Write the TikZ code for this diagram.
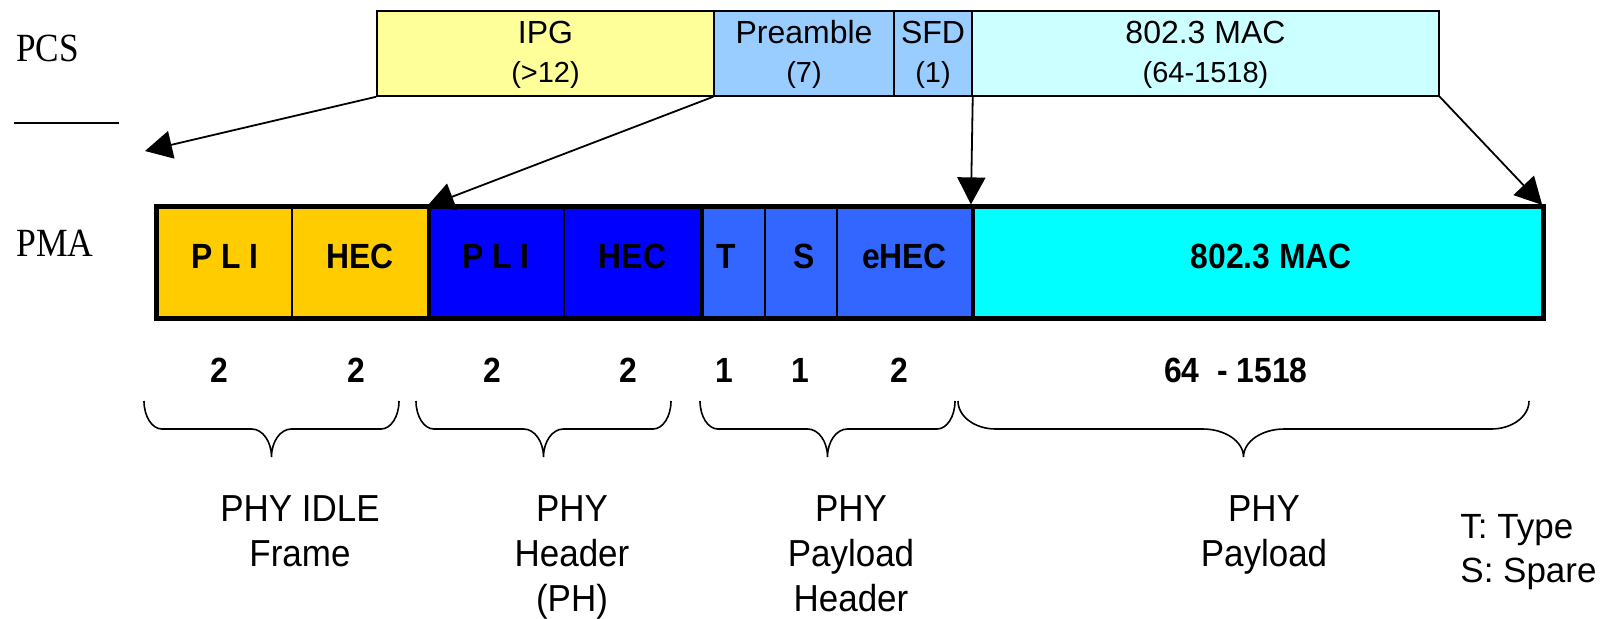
\documentclass[tikz,border=0pt]{standalone}
\usepackage{fontspec}
\setmainfont{Liberation Sans}
\newfontfamily\seriffont{Liberation Serif}
\newfontfamily\cellfont[FakeStretch=0.91]{Liberation Sans}
\newfontfamily\lblfont[FakeStretch=0.93]{Liberation Sans}
\usetikzlibrary{arrows.meta}
\definecolor{ipgyellow}{HTML}{FFFF99}
\definecolor{preblue}{HTML}{99CCFF}
\definecolor{maclight}{HTML}{CCFFFF}
\definecolor{idleyellow}{HTML}{FFCC00}
\definecolor{phblue}{HTML}{0000FF}
\definecolor{pphblue}{HTML}{3366FF}
\definecolor{maccyan}{HTML}{00FFFF}
\newcommand\mybrace[2]{%
  \pgfmathsetmacro\bxa{#1}\pgfmathsetmacro\bxb{#2}%
  \pgfmathsetmacro\bxc{(#1+#2)/2}%
  \pgfmathsetmacro\bre{0.0625*(#2-#1)+2}%
  \pgfmathsetmacro\brm{0.066*(#2-#1)+3}%
  \draw[bracestyle] (\bxa,401) .. controls (\bxa,416.5) and ({\bxa+0.45*\bre},429) .. ({\bxa+\bre},429)
    -- ({\bxc-\brm},429) .. controls ({\bxc-0.45*\brm},429) and (\bxc,441.5) .. (\bxc,457)
    .. controls (\bxc,441.5) and ({\bxc+0.45*\brm},429) .. ({\bxc+\brm},429)
    -- ({\bxb-\bre},429) .. controls ({\bxb-0.45*\bre},429) and (\bxb,416.5) .. (\bxb,401);}
\begin{document}
\begin{tikzpicture}[x=0.5pt,y=-0.5pt,
  topbox/.style={draw=black, line width=0.75pt, minimum height=42.5pt, inner sep=0pt, anchor=center},
  pmabox/.style={draw=black, line width=1.1pt, minimum height=55pt, inner sep=0pt, anchor=center,
     text height=8pt, text depth=2.5pt, font=\cellfont\bfseries\fontsize{17.5}{20}\selectfont},
  thickdiv/.style={line width=2pt},
  outerframe/.style={draw=black, line width=2.5pt},
  ttl/.style={font=\fontsize{16}{19}\selectfont, anchor=base, inner sep=0pt},
  tsub/.style={font=\fontsize{14.5}{17}\selectfont, anchor=base, inner sep=0pt},
  numtxt/.style={font=\cellfont\bfseries\fontsize{17.5}{20}\selectfont, anchor=base, inner sep=0pt},
  lbl/.style={font=\lblfont\fontsize{18.8}{22.5}\selectfont, align=center, anchor=north, inner sep=0pt},
  legend/.style={font=\fontsize{17.5}{22}\selectfont, align=left, anchor=north west, inner sep=0pt},
  layer/.style={font=\seriffont\fontsize{20}{24}\selectfont, anchor=west, inner sep=0pt},
  conn/.style={line width=0.9pt, -{Triangle[length=13.5pt,width=14pt]}},
  bracestyle/.style={line width=0.8pt},
]
\useasboundingbox (0,0) rectangle (1614,618);

% layer labels
\node[layer] (pcs) at (16,48) {\scalebox{0.88}[1]{PCS}};
\node[layer] (pma) at (16,243.5) {\scalebox{0.89}[1]{PMA}};
\coordinate (sepL) at (14,123);
\coordinate (sepR) at (119,123);
\draw[line width=0.85pt] (sepL) -- (sepR);

% PCS row
\node[topbox, fill=ipgyellow, minimum width=168.5pt] (ipg) at (545.5,53.5) {};
\node[topbox, fill=preblue, minimum width=90pt] (pre) at (804,53.5) {};
\node[topbox, fill=preblue, minimum width=39pt] (sfd) at (933,53.5) {};
\node[topbox, fill=maclight, minimum width=233.5pt] (mact) at (1205.5,53.5) {};
\node[ttl] (ipgA) at (545.5,43) {IPG};
\node[tsub] (ipgB) at (545.5,82) {(>12)};
\node[ttl] (preA) at (804,43) {Preamble};
\node[tsub] (preB) at (804,82) {(7)};
\node[ttl] (sfdA) at (933,43) {SFD};
\node[tsub] (sfdB) at (933,82) {(1)};
\node[ttl] (mactA) at (1205.5,43) {802.3 MAC};
\node[tsub] (mactB) at (1205.5,82) {(64-1518)};

% PMA row
\node[pmabox, fill=idleyellow, minimum width=67pt] (pli1) at (225,262.5) {P L I};
\node[pmabox, fill=idleyellow, minimum width=68pt] (hec1) at (360,262.5) {HEC};
\node[pmabox, fill=phblue, minimum width=68pt] (pli2) at (496,262.5) {P L I};
\node[pmabox, fill=phblue, minimum width=68.5pt] (hec2) at (632.5,262.5) {HEC};
\node[pmabox, fill=pphblue, minimum width=32pt] (tcell) at (733,262.5) {\hspace*{-7pt}T};
\node[pmabox, fill=pphblue, minimum width=36pt] (scell) at (801,262.5) {\hspace*{3pt}S};
\node[pmabox, fill=pphblue, minimum width=67.5pt] (ehec) at (904.5,262.5) {eHEC};
\node[pmabox, fill=maccyan, minimum width=285.25pt] (mac) at (1257.25,262.5) {\hspace*{14pt}802.3 MAC};
\draw[thickdiv] (hec1.north east) -- (hec1.south east);
\draw[thickdiv] (hec2.north east) -- (hec2.south east);
\draw[thickdiv] (ehec.north east) -- (ehec.south east);
\draw[outerframe] (pli1.north west) rectangle (mac.south east);

% connectors
\coordinate (idletip) at (145,151);
\draw[conn] (ipg.south west) -- (idletip);
\draw[conn] (pre.south west) -- (pli2.north west);
\draw[conn, shorten >=1pt] (sfd.south east) -- (mac.north west);
\draw[conn, shorten >=1pt] (mact.south east) -- (mac.north east);

% byte counts
\node[numtxt] (n1) at (219,382) {2};
\node[numtxt] (n2) at (356,382) {2};
\node[numtxt] (n3) at (492,382) {2};
\node[numtxt] (n4) at (628,382) {2};
\node[numtxt] (n5) at (724,382) {1};
\node[numtxt] (n6) at (800,382) {1};
\node[numtxt] (n7) at (899,382) {2};
\node[numtxt] (n8) at (1236,382) {64\ \ - 1518};

% braces
\mybrace{144}{399}
\mybrace{416}{671}
\mybrace{700}{955}
\mybrace{958}{1529}

% group labels
\node[lbl] (g1) at (300,495) {PHY IDLE\\Frame};
\node[lbl] (g2) at (572,495) {PHY\\Header\\(PH)};
\node[lbl] (g3) at (851,495) {PHY\\Payload\\Header};
\node[lbl] (g4) at (1264,495) {PHY\\Payload};
\node[legend] (leg) at (1460,514) {T: Type\\S: Spare};
\end{tikzpicture}
\end{document}
